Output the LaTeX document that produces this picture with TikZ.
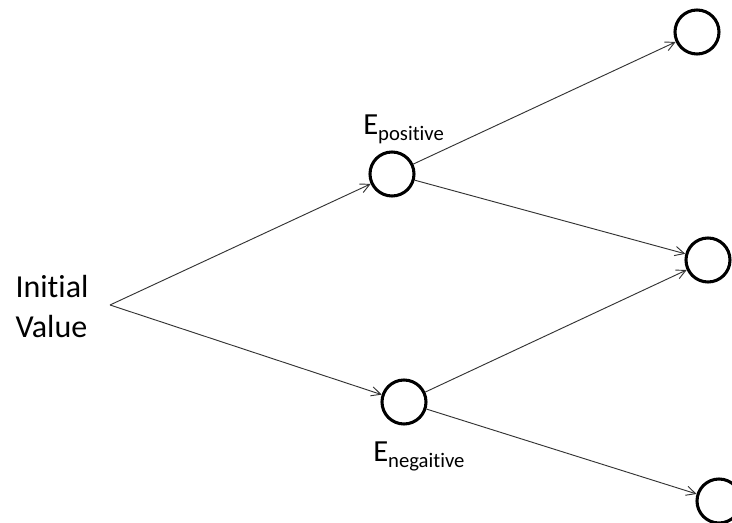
\documentclass[tikz,border=0pt]{standalone}
\usepackage{fontspec}
\setmainfont{Carlito}[Ligatures=NoCommon]
\usetikzlibrary{arrows.meta}
\tikzset{
  outcome/.style = {circle,draw,line width=2.3pt,minimum size=33pt,inner sep=0pt},
  branch/.style  = {-{Straight Barb[length=7pt,width=7pt]},line width=0.7pt,black!80},
  startlbl/.style = {font=\fontsize{24}{30}\selectfont,align=left},
  elbl/.style     = {font=\fontsize{23}{26}\selectfont,inner sep=0pt,anchor=base west}
}
\newcommand{\esub}[1]{E\raisebox{-3.8pt}{\fontsize{15.5}{16}\selectfont #1}}

\begin{document}
\begin{tikzpicture}[x=0.75pt,y=-0.75pt]
  \useasboundingbox (0,0) rectangle (732,523);
  \node[startlbl] (init) at (52,307) {Initial\\Value};
  \coordinate (root) at (110,305);
  \node[outcome] (pos) at (392,174) {};
  \node[outcome] (neg) at (404,402) {};
  \node[outcome] (up) at (697,32) {};
  \node[outcome] (mid) at (708,260) {};
  \node[outcome] (down) at (719,501) {};
  \node[elbl] (poslbl) at (363,135) {\esub{positive}};
  \node[elbl] (neglbl) at (373,462) {\esub{negaitive}};
  \draw[branch] (root) -- (pos);
  \draw[branch] (root) -- (neg);
  \draw[branch] (pos) -- (up);
  \draw[branch] (pos) -- (mid);
  \draw[branch] (neg) -- (mid);
  \draw[branch] (neg) -- (down);
\end{tikzpicture}
\end{document}
